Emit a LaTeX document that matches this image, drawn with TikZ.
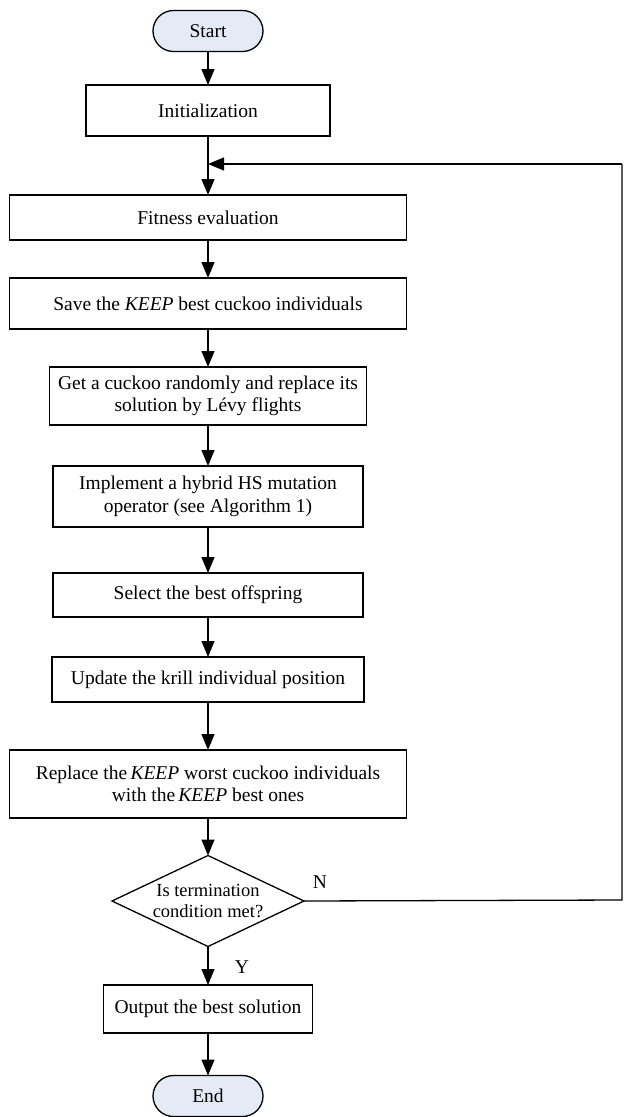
\documentclass[tikz,border=0pt]{standalone}
\usepackage{fontspec}
\setmainfont{Liberation Serif}
\usetikzlibrary{shapes.misc,shapes.geometric,arrows.meta}
\definecolor{termfill}{RGB}{228,235,247}
\begin{document}
\begin{tikzpicture}[x=1pt,y=-1pt,
  font=\fontsize{19.5}{22.5}\selectfont,
  every node/.style={inner sep=0pt, outer sep=0pt, line width=1.3pt},
  proc/.style={draw, rectangle, align=center},
  term/.style={draw, rounded rectangle, fill=termfill, minimum width=110pt, minimum height=41pt},
  flow/.style={line width=1.3pt, -{Triangle[length=16pt,width=13pt]}},
  line/.style={line width=1.3pt}
]
\useasboundingbox (0,0) rectangle (625,1117);
\node[term] (start) at (208,31) {Start};
\node[proc, minimum width=244pt, minimum height=51pt] (init) at (208,110.5) {Initialization};
\node[proc, minimum width=397pt, minimum height=45pt] (fit) at (208,217.5) {Fitness evaluation};
\node[proc, minimum width=397pt, minimum height=51pt] (save) at (208,303.5) {Save the \textit{KEEP} best cuckoo individuals};
\node[proc, minimum width=317pt, minimum height=58pt] (get) at (208,396) {Get a cuckoo randomly and replace its\\solution by L\'evy flights};
\node[proc, minimum width=310pt, minimum height=61pt] (impl) at (208,496.5) {Implement a hybrid HS mutation\\operator (see Algorithm 1)};
\node[proc, minimum width=310pt, minimum height=44pt] (sel) at (208,595) {Select the best offspring};
\node[proc, minimum width=312pt, minimum height=45pt] (upd) at (208,679.5) {Update the krill individual position};
\node[proc, minimum width=397pt, minimum height=68pt] (repl) at (208,784) {Replace the\,\textit{KEEP} worst cuckoo individuals\\with the\,\textit{KEEP} best ones};
\node[draw, diamond, minimum width=192pt, minimum height=91pt] (dia) at (208,901) {};
\node[align=center, font=\fontsize{18.5}{21}\selectfont] (diatext) at (dia.center) {Is termination\\condition met?};
\node[proc, minimum width=209pt, minimum height=48pt] (out) at (208,1009) {Output the best solution};
\node[term] (end) at (208,1096) {End};
\node (nlab) at (320,882) {N};
\node (ylab) at (242,967) {Y};
\coordinate (cr1) at (622,900);
\coordinate (cr2) at (622,164);
\coordinate (cm) at (208,164);
\draw[flow] (start) -- (init);
\draw[flow] (init) -- (fit);
\draw[flow] (fit) -- (save);
\draw[flow] (save) -- (get);
\draw[flow] (get) -- (impl);
\draw[flow] (impl) -- (sel);
\draw[flow] (sel) -- (upd);
\draw[flow] (upd) -- (repl);
\draw[flow] (repl) -- (dia);
\draw[flow] (dia) -- (out);
\draw[flow] (out) -- (end);
\draw[line] (dia.east) -- (cr1) -- (cr2);
\draw[flow] (cr2) -- (cm);
\end{tikzpicture}
\end{document}
